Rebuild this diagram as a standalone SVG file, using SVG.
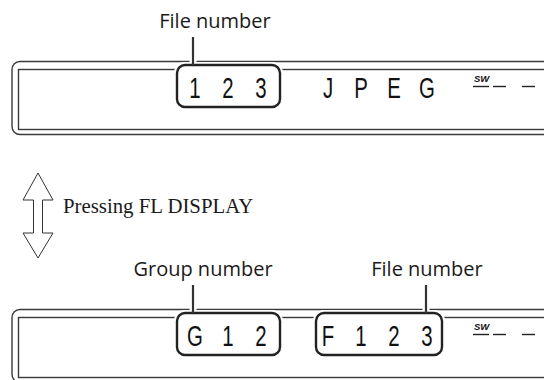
<svg xmlns="http://www.w3.org/2000/svg" width="544" height="380" viewBox="0 0 544 380">
<style>
.frame{fill:none;stroke:#3a3a3a;stroke-width:1.4}
.halo{fill:#fff;stroke:#fff;stroke-width:6}
.box{fill:#fff;stroke:#222;stroke-width:2.4}
.seg{font-family:"Liberation Sans",Arial,sans-serif;font-size:30px;fill:#111;text-anchor:middle}
.lbl{font-family:"Open Sans","Noto Sans",sans-serif;font-size:20px;fill:#1a1a1a;text-anchor:middle}
.sw{font-family:"Liberation Sans",Arial,sans-serif;font-size:9.5px;font-weight:bold;font-style:italic;fill:#111}
.dash{stroke:#222;stroke-width:1.4}
.lead{stroke:#333;stroke-width:2.2}
.leadhalo{stroke:#fff;stroke-width:7}
.arrow{fill:#fff;stroke:#333;stroke-width:1}
.press{font-family:"Liberation Serif","Times New Roman",serif;font-size:20.8px;fill:#1a1a1a}
</style>
<g id="display1">
<rect class="frame" x="12" y="61.5" width="560" height="73" rx="8"/>
<rect class="frame" x="18.5" y="69.5" width="560" height="60"/>
</g>
<g id="display2">
<rect class="frame" x="12" y="309.5" width="560" height="73" rx="8"/>
<rect class="frame" x="18.5" y="317.5" width="560" height="60"/>
</g>
<g id="connectors">
<line class="leadhalo" x1="193" y1="40" x2="193" y2="65"/>
<line class="leadhalo" x1="193" y1="288" x2="193" y2="313"/>
<line class="leadhalo" x1="426" y1="288" x2="426" y2="313"/>
</g>
<g id="box-file1">
<rect class="halo" x="177" y="65" width="103" height="42" rx="8"/>
<rect class="box" x="177" y="65" width="103" height="42" rx="8"/>
<text class="seg" transform="translate(195,97.5) scale(0.68,1)">1</text>
<text class="seg" transform="translate(228,97.5) scale(0.68,1)">2</text>
<text class="seg" transform="translate(261,97.5) scale(0.68,1)">3</text>
</g>
<g id="jpeg">
<text class="seg" transform="translate(328,97.5) scale(0.68,1)">J</text>
<text class="seg" transform="translate(361,97.5) scale(0.68,1)">P</text>
<text class="seg" transform="translate(394,97.5) scale(0.68,1)">E</text>
<text class="seg" transform="translate(427,97.5) scale(0.68,1)">G</text>
</g>
<g id="sw1">
<text class="sw" x="474" y="82">SW</text>
<line class="dash" x1="473" y1="86.5" x2="489" y2="86.5"/>
<line class="dash" x1="493" y1="86.5" x2="506" y2="86.5"/>
<line class="dash" x1="522" y1="86.5" x2="535" y2="86.5"/>
</g>
<g id="box-group">
<rect class="halo" x="177" y="313" width="103" height="42" rx="8"/>
<rect class="box" x="177" y="313" width="103" height="42" rx="8"/>
<text class="seg" transform="translate(195,345.5) scale(0.68,1)">G</text>
<text class="seg" transform="translate(228,345.5) scale(0.68,1)">1</text>
<text class="seg" transform="translate(261,345.5) scale(0.68,1)">2</text>
</g>
<g id="box-file2">
<rect class="halo" x="316" y="313" width="126" height="42" rx="8"/>
<rect class="box" x="316" y="313" width="126" height="42" rx="8"/>
<text class="seg" transform="translate(328,345.5) scale(0.68,1)">F</text>
<text class="seg" transform="translate(361,345.5) scale(0.68,1)">1</text>
<text class="seg" transform="translate(394,345.5) scale(0.68,1)">2</text>
<text class="seg" transform="translate(427,345.5) scale(0.68,1)">3</text>
</g>
<g id="sw2">
<text class="sw" x="474" y="330">SW</text>
<line class="dash" x1="473" y1="334.5" x2="489" y2="334.5"/>
<line class="dash" x1="493" y1="334.5" x2="506" y2="334.5"/>
<line class="dash" x1="522" y1="334.5" x2="535" y2="334.5"/>
</g>
<g id="leaders">
<line class="lead" x1="193" y1="37" x2="193" y2="65"/>
<line class="lead" x1="193" y1="285" x2="193" y2="313"/>
<line class="lead" x1="426" y1="285" x2="426" y2="313"/>
</g>
<g id="label-file1"><text class="lbl" x="215" y="28">File number</text></g>
<g id="label-group"><text class="lbl" x="203" y="276">Group number</text></g>
<g id="label-file2"><text class="lbl" x="427" y="276">File number</text></g>
<g id="toggle">
<polygon class="arrow" points="38,173 53,200 42.5,200 42.5,233 53,233 38,258 23,233 33.5,233 33.5,200 23,200"/>
<text class="press" x="63" y="213">Pressing FL DISPLAY</text>
</g>
</svg>
